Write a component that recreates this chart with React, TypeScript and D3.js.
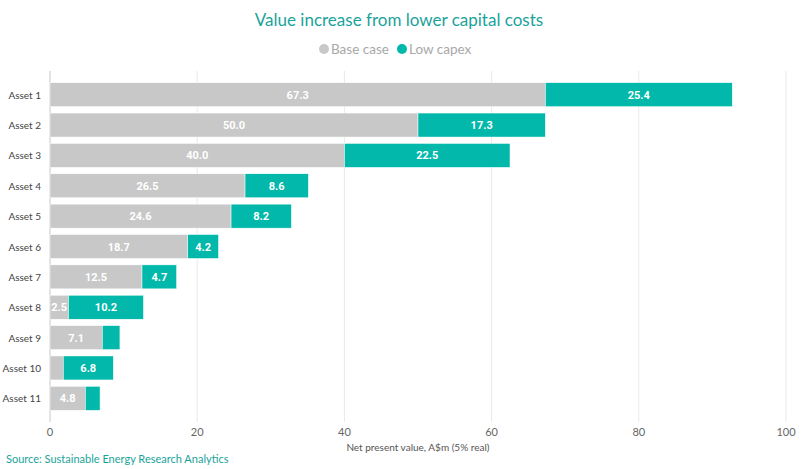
import * as d3 from "d3";
import { useEffect } from "react";

const categories = ["Asset 1", "Asset 2", "Asset 3", "Asset 4", "Asset 5", "Asset 6", "Asset 7", "Asset 8", "Asset 9", "Asset 10", "Asset 11"];
const baseCase = [67.3, 50.0, 40.0, 26.5, 24.6, 18.7, 12.5, 2.5, 7.1, 1.8, 4.8];
const lowCapex = [25.4, 17.3, 22.5, 8.6, 8.2, 4.2, 4.7, 10.2, 2.4, 6.8, 2.0];
const xTicks = [0, 20, 40, 60, 80, 100];

const width = 812;
const height = 469;
const gray = "#c8c8c8";
const teal = "#01b8aa";
const titleColor = "#1aa39b";
const font = "Lato, 'Open Sans', sans-serif";

export default function App() {
    useEffect(() => {
        document.body.style.margin = "0";
    }, []);

    const x = d3.scaleLinear().domain([0, 100]).range([50, 786]);
    const y = d3
        .scaleBand()
        .domain(categories)
        .range([71, 422])
        .paddingInner(0.21)
        .paddingOuter(0.385);

    // segments: base then low capex stacked on top
    const segments = categories.flatMap((c, i) => [
        { cat: c, x0: 0, x1: baseCase[i], value: baseCase[i], color: gray },
        { cat: c, x0: baseCase[i], x1: baseCase[i] + lowCapex[i], value: lowCapex[i], color: teal },
    ]);

    return (
        <svg width={width} height={height} style={{ display: "block", background: "#fff" }} fontFamily={font}>
            <text x={399} y={26} textAnchor="middle" fontSize={17} fill={titleColor}>
                Value increase from lower capital costs
            </text>

            {/* Legend */}
            <g fontSize={13.5} fill="#a8a8a8">
                <circle cx={324} cy={49} r={5} fill={gray} />
                <text x={331} y={54}>Base case</text>
                <circle cx={402} cy={49} r={5} fill={teal} />
                <text x={409} y={54}>Low capex</text>
            </g>

            {/* Grid */}
            {xTicks.slice(1).map((t) => (
                <line key={t} x1={x(t)} x2={x(t)} y1={71} y2={422} stroke="#e9e9e9" strokeWidth={1} />
            ))}
            <line x1={x(0)} x2={x(0)} y1={71} y2={422} stroke="#c8c8c8" strokeWidth={1} />

            {/* Bars */}
            {segments.map((s, i) => (
                <rect
                    key={i}
                    x={x(s.x0)}
                    y={y(s.cat)!}
                    width={x(s.x1) - x(s.x0)}
                    height={y.bandwidth()}
                    fill={s.color}
                    stroke="#fff"
                    strokeWidth={0.5}
                />
            ))}

            {/* Data labels */}
            {segments
                .filter((s) => x(s.x1) - x(s.x0) >= 18)
                .map((s, i) => (
                    <text
                        key={i}
                        x={(x(s.x0) + x(s.x1)) / 2}
                        y={y(s.cat)! + y.bandwidth() / 2 + 4}
                        textAnchor="middle"
                        fontSize={11}
                        fontWeight="bold"
                        fontFamily="Roboto, sans-serif"
                        fill="#fff"
                    >
                        {s.value.toFixed(1)}
                    </text>
                ))}

            {/* Y axis labels */}
            {categories.map((c) => (
                <text key={c} x={41} y={y(c)! + y.bandwidth() / 2 + 4} textAnchor="end" fontSize={10} fill="#444">
                    {c}
                </text>
            ))}

            {/* X axis labels */}
            {xTicks.map((t) => (
                <text key={t} x={x(t)} y={436} textAnchor="middle" fontSize={11} fill="#666">
                    {t}
                </text>
            ))}
            <text x={x(40) + 2} y={451} fontSize={10} fill="#555">
                Net present value, A$m (5% real)
            </text>

            <text x={6} y={463} fontSize={11} fill={titleColor}>
                Source: Sustainable Energy Research Analytics
            </text>
        </svg>
    );
}
